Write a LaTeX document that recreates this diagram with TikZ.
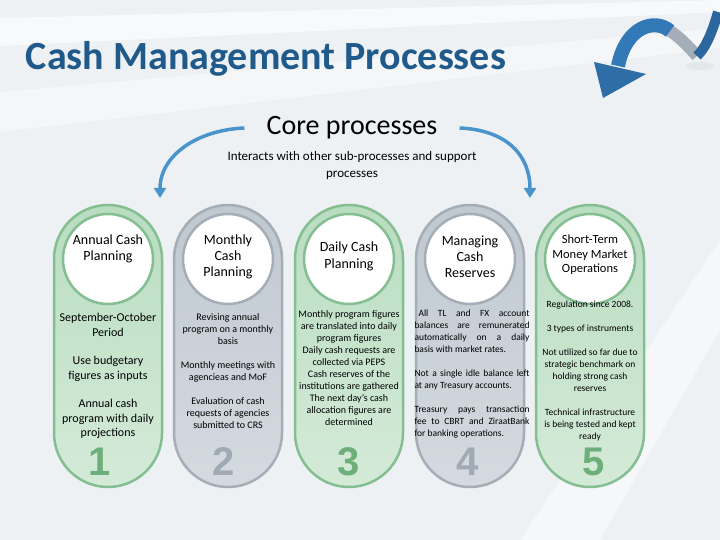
\documentclass[tikz,border=0pt]{standalone}
\usepackage{fontspec}
\setmainfont{Carlito}
\newfontfamily\numfont{Liberation Sans}
\usetikzlibrary{arrows.meta}

\definecolor{backdrop}{HTML}{EDF1F4}
\definecolor{titleblue}{HTML}{1F5A8A}
\definecolor{arcblue}{HTML}{4A94CC}
\definecolor{ribbonblue}{HTML}{3379B8}
\definecolor{ribbongray}{HTML}{A3AEB8}
\definecolor{greenedge}{HTML}{84BE91}
\definecolor{greentop}{HTML}{B9DDC1}
\definecolor{greenbot}{HTML}{D4EAD8}
\definecolor{greennum}{HTML}{6DAF7A}
\definecolor{grayedge}{HTML}{A5AEB7}
\definecolor{graytop}{HTML}{C0C8D0}
\definecolor{graybot}{HTML}{D4DAE0}
\definecolor{graynum}{HTML}{A0AAB4}

\begin{document}
\begin{tikzpicture}[x=1pt, y=-1pt,
  pill/.style = {shape=rectangle, rounded corners=54pt, minimum width=108pt,
    minimum height=282pt, line width=2.5pt},
  greenpill/.style = {pill, draw=greenedge, top color=greentop, bottom color=greenbot},
  graypill/.style = {pill, draw=grayedge, top color=graytop, bottom color=graybot},
  disc/.style = {shape=circle, fill=white, minimum size=90pt, inner sep=0pt, line width=2.5pt},
  head/.style = {align=center, inner sep=0pt, font=\fontsize{14}{16}\selectfont},
  body/.style = {align=center, inner sep=0pt, font=\fontsize{9.5}{12}\selectfont},
  digit/.style = {inner sep=0pt, font=\numfont\bfseries\fontsize{40}{40}\selectfont},
  corearc/.style = {draw=arcblue, line width=3.5pt, -{Triangle[length=10pt,width=12pt]}}
  ]
  % backdrop
  \fill[backdrop] (0,0) rectangle (720,540);
  \fill[white, opacity=.6] (0,18) -- (720,0) -- (720,12) -- (0,46) -- cycle;
  \fill[white, opacity=.4] (0,92) -- (720,28) -- (720,48) -- (0,132) -- cycle;
  \fill[white, opacity=.45] (520,540) -- (600,540) -- (720,330) -- (720,240) -- cycle;
  \useasboundingbox (0,0) rectangle (720,540);

  % ribbon arrow, top right
  \fill[black, opacity=.04] (700,66) ellipse (14pt and 4pt);
  \draw[ribbongray, line width=12pt] (697,56) .. controls (688,46) and (678,35) .. (665,28);
  \draw[ribbonblue!85!black, line width=10pt] (718,12) .. controls (713,30) and (706,48) .. (697,56);
  \draw[ribbonblue, line width=14pt] (670,31) .. controls (655,18) and (626,26) .. (618,66);
  \fill[ribbonblue!90!black] (594,62) -- (646,74) -- (603,98) -- cycle;

  % titles
  \node[text=titleblue, font=\bfseries\fontsize{40}{44}\selectfont, inner sep=0pt]
    (title) at (266,59) {Cash Management Processes};
  \node[font=\fontsize{28}{30}\selectfont, inner sep=0pt] (core) at (352,128) {Core processes};
  \node[align=center, font=\fontsize{13}{17}\selectfont, inner sep=0pt]
    (sub) at (352,166) {Interacts with other sub-processes and support\\processes};
  \coordinate (leftend) at (160,198);
  \coordinate (rightend) at (530,198);
  \draw[corearc] ([xshift=-22pt]core.west) .. controls +(-48,2) and +(0,-42) .. (leftend);
  \draw[corearc] ([xshift=22pt]core.east) .. controls +(48,2) and +(0,-42) .. (rightend);

  % pills
  \node[greenpill] (pill1) at (108,346) {};
  \node[graypill]  (pill2) at (228,346) {};
  \node[greenpill] (pill3) at (349,346) {};
  \node[graypill]  (pill4) at (470,346) {};
  \node[greenpill] (pill5) at (590,346) {};

  \node[disc, draw=greenedge] (disc1) at (108,259) {};
  \node[disc, draw=grayedge]  (disc2) at (228,259) {};
  \node[disc, draw=greenedge] (disc3) at (349,259) {};
  \node[disc, draw=grayedge]  (disc4) at (470,259) {};
  \node[disc, draw=greenedge] (disc5) at (590,259) {};

  % headers
  \node[head] (head1) at (108,249) {Annual Cash\\Planning};
  \node[head] (head2) at (228,257) {Monthly\\Cash\\Planning};
  \node[head, font=\fontsize{14}{17}\selectfont] (head3) at (349,256) {Daily Cash\\Planning};
  \node[head] (head4) at (470,257) {Managing\\Cash\\Reserves};
  \node[head, font=\fontsize{12.5}{14.5}\selectfont] (head5) at (590,255)
    {Short-Term\\Money Market\\Operations};

  % bodies
  \node[body, font=\fontsize{12}{14.5}\selectfont] (body1) at (108,376)
    {September-October\\Period\\[14pt]Use budgetary\\figures as inputs\\[14pt]Annual cash\\program with daily\\projections};
  \node[body, font=\fontsize{10}{12}\selectfont] (body2) at (228,371)
    {Revising annual\\program on a monthly\\basis\\[12pt]Monthly meetings with\\agencieas and MoF\\[12pt]Evaluation of cash\\requests of agencies\\submitted to CRS};
  \node[body, font=\fontsize{10}{12}\selectfont] (body3) at (349,368)
    {Monthly program figures\\are translated into daily\\program figures\\Daily cash requests are\\collected via PEPS\\Cash reserves of the\\institutions are gathered\\The next day’s cash\\allocation figures are\\determined};
  \node[body, align=justify, text width=115pt] (body4) at (472,374)
    {\hspace*{4pt}All TL and FX account\linebreak balances are remunerated\linebreak automatically on a daily\linebreak basis with market rates.\\[12pt]Not a single idle balance left\linebreak at any Treasury accounts.\\[12pt]Treasury pays transaction\linebreak fee to CBRT and ZiraatBank\linebreak for banking operations.};
  \node[body] (body5) at (590,371)
    {Regulation since 2008.\\[12pt]3 types of instruments\\[12pt]Not utilized so far due to\\strategic benchmark on\\holding strong cash\\reserves\\[12pt]Technical infrastructure\\is being tested and kept\\ready};

  % numbers
  \node[digit, text=greennum] (num1) at (100,462) {1};
  \node[digit, text=graynum]  (num2) at (224,462) {2};
  \node[digit, text=greennum] (num3) at (349,462) {3};
  \node[digit, text=graynum]  (num4) at (468,462) {4};
  \node[digit, text=greennum] (num5) at (594,462) {5};
\end{tikzpicture}
\end{document}
